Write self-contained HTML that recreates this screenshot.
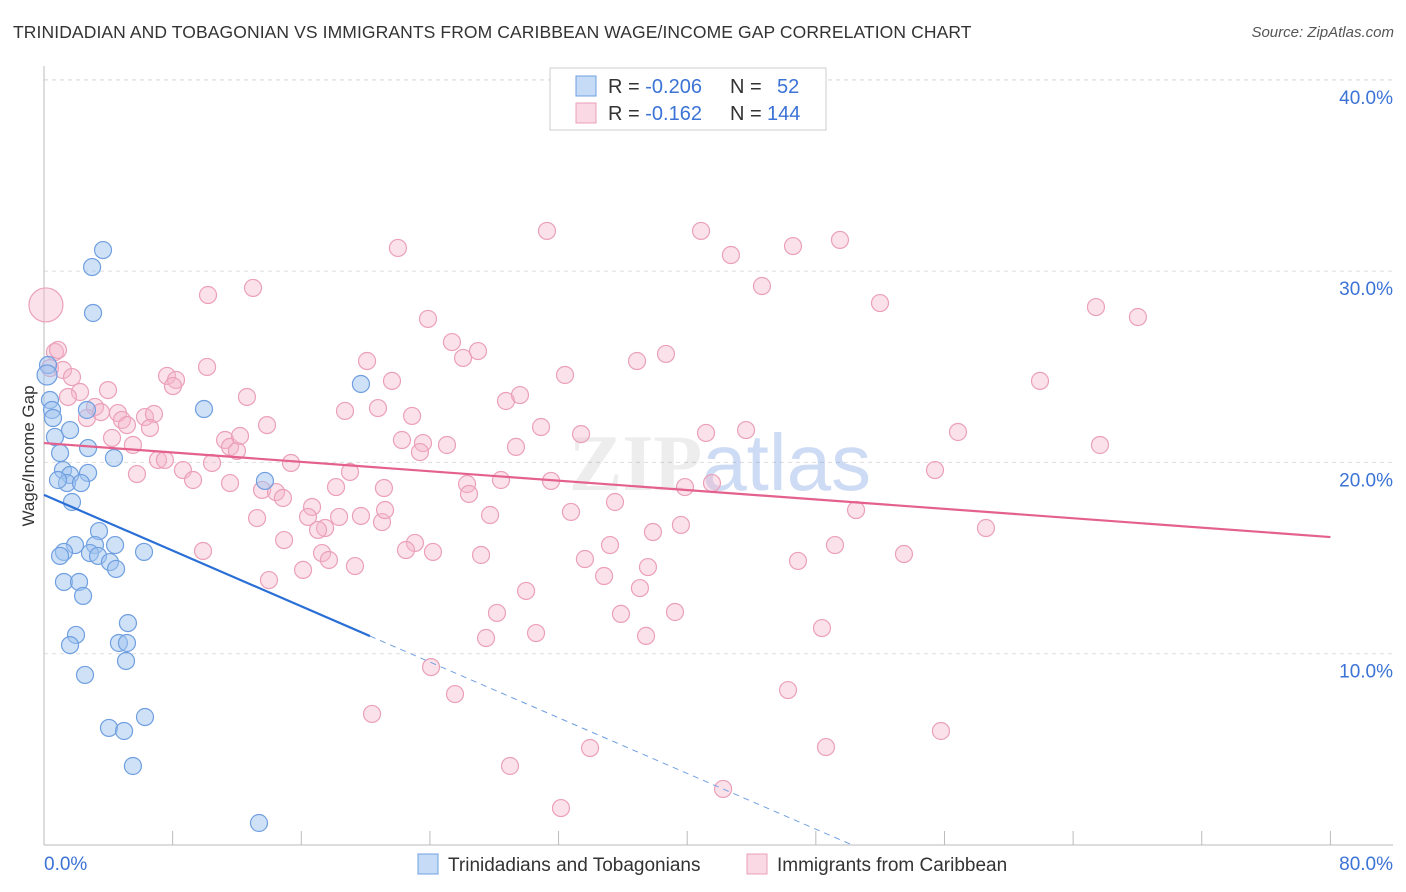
<!DOCTYPE html>
<html><head><meta charset="utf-8">
<style>
body{margin:0;background:#fff;font-family:"Liberation Sans",sans-serif;}
#wrap{position:relative;width:1406px;height:892px;overflow:hidden;}
.title{position:absolute;left:13px;top:22px;font-size:17.5px;color:#333;letter-spacing:0.1px}
.src{position:absolute;right:12px;top:24px;font-size:15px;color:#555;font-style:italic}
</style></head>
<body>
<div id="wrap">
<div class="title">TRINIDADIAN AND TOBAGONIAN VS IMMIGRANTS FROM CARIBBEAN WAGE/INCOME GAP CORRELATION CHART</div>
<div class="src">Source: ZipAtlas.com</div>
<svg id="svg" width="1406" height="892" style="position:absolute;left:0;top:0"></svg>
</div>
<script>
const blueX=[3.67,2.99,3.05,0.25,0.19,0.37,0.50,0.56,0.68,1.62,2.67,2.74,4.35,1.00,1.18,1.62,2.74,1.43,2.30,0.87,1.74,3.42,1.93,4.42,1.24,3.17,6.22,1.00,2.86,3.36,4.10,4.48,1.24,2.18,2.43,5.22,1.99,1.62,4.66,5.16,5.10,2.55,4.04,4.98,6.28,5.53,13.37,9.95,19.71,13.74];
const blueY=[31.10,30.21,27.81,25.09,24.57,23.26,22.74,22.32,21.33,21.69,22.74,20.75,20.23,20.49,19.60,19.34,19.45,18.92,18.92,19.08,17.93,16.41,15.68,15.68,15.32,15.68,15.32,15.11,15.26,15.11,14.79,14.43,13.75,13.75,13.02,11.60,10.98,10.45,10.56,10.56,9.62,8.89,6.12,5.96,6.69,4.13,1.15,22.79,24.10,19.03];
const pinkX=[0.12,0.68,0.87,0.37,1.18,1.74,2.24,1.49,3.98,3.17,2.67,3.54,4.60,4.85,5.16,6.28,6.84,6.59,4.23,5.53,7.09,7.52,5.78,7.65,8.21,8.02,10.14,8.64,9.27,10.45,10.20,13.00,22.01,31.28,40.86,42.72,46.58,49.50,44.65,51.99,65.42,68.03,23.88,25.37,26.99,26.06,20.09,21.64,32.40,36.88,38.68,61.94,12.62,11.26,11.57,12.00,13.87,12.19,18.72,20.77,22.89,22.26,23.57,25.06,28.73,29.60,30.91,33.40,29.35,41.17,43.66,56.84,65.67,15.36,19.03,23.38,11.57,13.56,14.43,14.86,13.25,16.67,16.42,18.35,17.48,14.93,17.04,18.16,21.14,19.71,21.02,21.21,23.07,22.51,24.19,16.11,17.29,17.72,19.34,13.99,9.89,26.31,26.43,28.42,31.53,27.74,32.77,35.51,39.86,41.54,37.87,39.61,35.20,33.64,34.83,37.06,37.56,27.18,28.17,29.98,35.88,39.24,27.49,30.60,37.44,48.38,49.19,50.50,46.89,53.48,55.41,58.58,24.07,25.56,20.40,46.27,55.78,48.63,33.96,28.98,42.23,32.15];
const pinkY=[28.23,25.77,25.88,24.93,24.83,24.46,23.68,23.42,23.78,22.90,22.32,22.63,22.58,22.22,21.95,22.37,22.53,21.80,21.28,20.91,20.13,20.13,19.39,24.52,24.31,23.99,24.99,19.60,19.08,19.97,28.75,29.12,31.21,32.10,32.10,30.84,31.31,31.63,29.22,28.33,28.12,27.60,27.50,26.29,25.82,25.46,25.30,24.26,24.57,25.30,25.67,24.26,23.42,21.17,20.81,20.60,21.95,21.38,22.69,22.84,22.43,21.17,21.01,20.91,23.21,23.52,21.85,21.48,20.81,21.54,21.69,21.59,20.91,19.97,19.50,20.54,18.92,18.56,18.45,18.14,17.09,17.67,17.15,17.15,16.57,15.94,16.47,18.71,18.66,17.20,16.88,17.51,15.79,15.42,15.32,14.38,15.26,14.90,14.58,13.85,15.37,18.87,18.35,19.08,19.03,17.25,17.41,17.93,18.71,18.92,16.36,16.73,15.68,14.95,14.06,13.43,14.53,15.16,12.13,13.28,12.08,12.18,10.82,11.08,10.93,11.34,15.68,17.51,14.85,15.21,19.60,16.57,9.30,7.89,6.85,8.10,5.96,5.12,5.07,4.13,2.93,1.93];
const yTicks=[10,20,30,40];
const yTickLabels=["10.0%","20.0%","30.0%","40.0%"];
const xTickVals=[0,8,16,24,32,40,48,56,64,72,80];
const blueTrend=[18.30,-0.364];
const pinkTrend=[21.01,-0.0614];

const X0=44,PX=16.08,Y0=845,PY=19.13;
const sx=v=>X0+v*PX, sy=v=>Y0-v*PY;
const NS="http://www.w3.org/2000/svg";
const svg=document.getElementById('svg');
function mk(t,a){const e=document.createElementNS(NS,t);for(const k in a)e.setAttribute(k,a[k]);svg.appendChild(e);return e;}
// gridlines
yTicks.forEach((t,i)=>{
  const g=mk('line',{x1:44,x2:1393,y1:sy(t),y2:sy(t),stroke:'#ddd','stroke-dasharray':'4,4'});
  
  
  const l=mk('text',{x:1393,y:sy(t)+24,'text-anchor':'end','font-size':19,fill:'#3b73d6'});
  l.textContent=yTickLabels[i];
  
  
});
const tg=mk('line',{x1:44,x2:1393,y1:80,y2:80,stroke:'#ddd','stroke-dasharray':'4,4'});


// axes
const ya=mk('line',{x1:44,x2:44,y1:66,y2:845,stroke:'#bbb'});


const xa=mk('line',{x1:44,x2:1393,y1:845,y2:845,stroke:'#bbb'});


xTickVals.forEach(t=>{
  const k=mk('line',{x1:sx(t),x2:sx(t),y1:831,y2:845,stroke:'#bbb'});
  
  
});
const xl0=mk('text',{x:44,y:870,'font-size':19,fill:'#3b73d6'});xl0.textContent="0.0%";


const xl1=mk('text',{x:1393,y:870,'font-size':19,fill:'#3b73d6','text-anchor':'end'});xl1.textContent="80.0%";


const yt=mk('text',{x:34,y:456,'font-size':17,fill:'#333','text-anchor':'middle',transform:'rotate(-90 34 456)'});yt.textContent="Wage/Income Gap";


// watermark
const wm=mk('text',{x:720,y:490,'font-size':80,'text-anchor':'middle',fill:'#000','fill-opacity':0.07});
wm.innerHTML='<tspan font-family="Liberation Serif" font-weight="bold">ZIP</tspan><tspan fill="#3b73d6" fill-opacity="1" opacity="0.25">atlas</tspan>';


// points
pinkX.forEach((x,i)=>{
  const c=mk('circle',{cx:sx(x),cy:sy(pinkY[i]),r:i===0?17:8.5,fill:'rgba(246,180,203,0.4)',stroke:'#eba0ba','stroke-width':1.2});
  
  
});
blueX.forEach((x,i)=>{
  const c=mk('circle',{cx:sx(x),cy:sy(blueY[i]),r:i===4?10:8.5,fill:'rgba(160,196,240,0.5)',stroke:'#6f9fe0','stroke-width':1.2});
  
  
});
// trends
const bEndSolid=20.27, bEnd=-blueTrend[0]/blueTrend[1];
const b1=mk('line',{x1:sx(0),y1:sy(blueTrend[0]),x2:sx(bEndSolid),y2:sy(blueTrend[0]+blueTrend[1]*bEndSolid),stroke:'#2a6fd6','stroke-width':2.2});


const b2=mk('line',{x1:sx(bEndSolid),y1:sy(blueTrend[0]+blueTrend[1]*bEndSolid),x2:sx(bEnd),y2:sy(0),stroke:'#6f9fe0','stroke-width':1,'stroke-dasharray':'6,5'});


const p1=mk('line',{x1:sx(0),y1:sy(pinkTrend[0]),x2:sx(80),y2:sy(pinkTrend[0]+pinkTrend[1]*80),stroke:'#e4608d','stroke-width':2.2});


// top legend
const lb=mk('rect',{x:550,y:68,width:276,height:62,fill:'#fff',stroke:'#ccc'});


[[86,'rgba(160,196,240,0.6)','#6f9fe0','-0.206','52','blue'],[113,'rgba(246,180,203,0.5)','#eba0ba','-0.162','144','pink']].forEach(r=>{
  const s=mk('rect',{x:576,y:r[0]-10,width:20,height:20,fill:r[1],stroke:r[2]});
  
  
  const t=mk('text',{x:608,y:r[0]+7,'font-size':20,fill:'#333'});
  t.innerHTML='R = <tspan fill="#3b73d6">'+(r[3]==='-0.206'?'':' ')+r[3]+'</tspan><tspan x="730">N = </tspan><tspan fill="#3b73d6" x="'+(r[4].length==2?777:767)+'">'+r[4]+'</tspan>';
  
  
});
// bottom legend
[[418,'rgba(160,196,240,0.6)','#6f9fe0','Trinidadians and Tobagonians'],[747,'rgba(246,180,203,0.5)','#eba0ba','Immigrants from Caribbean']].forEach(r=>{
  const s=mk('rect',{x:r[0],y:854,width:20,height:20,fill:r[1],stroke:r[2]});
  
  
  const t=mk('text',{x:r[0]+30,y:871,'font-size':19,fill:'#333'});t.textContent=r[3];
  
  
});
</script>
</body></html>
